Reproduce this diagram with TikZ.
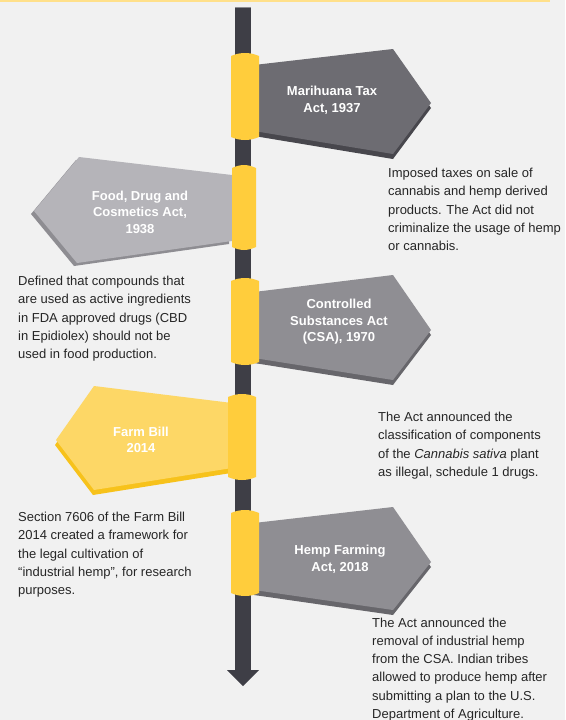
\documentclass[tikz,border=0pt]{standalone}
\usepackage{fontspec}
\setmainfont{Liberation Sans}
\definecolor{bg}{HTML}{F1F1F1}
\definecolor{topline}{HTML}{FFE08A}
\definecolor{polec}{HTML}{3E3E46}
\definecolor{polecap}{HTML}{8A8A90}
\definecolor{collarc}{HTML}{FFCD3C}
\definecolor{sa}{HTML}{6D6C72}
\definecolor{sad}{HTML}{48474D}
\definecolor{sb}{HTML}{B5B4B9}
\definecolor{sbd}{HTML}{8E8D92}
\definecolor{sc}{HTML}{8F8E93}
\definecolor{scd}{HTML}{67666B}
\definecolor{sd}{HTML}{FDD766}
\definecolor{sdd}{HTML}{F7C21B}
\definecolor{txt}{HTML}{262626}
\newcommand\drawcollar[4]{\fill[collarc] (#1,#3+3) .. controls (#1+9,#3-1) and (#2-9,#3-1) .. (#2,#3+3) -- (#2,#4-3) .. controls (#2-9,#4+1) and (#1+9,#4+1) .. (#1,#4-3) -- cycle;}
\begin{document}
\begin{tikzpicture}[x=1pt,y=-1pt,
  desc/.style={anchor=base west, align=left, inner sep=0pt, text=txt, font=\fontsize{13}{18.3}\selectfont},
  signtxt/.style={align=center, inner sep=0pt, text=white, font=\bfseries\fontsize{13}{16.6}\selectfont}]
\fill[bg] (0,0) rectangle (565,720);
\useasboundingbox (0,0) rectangle (565,720);
\fill[topline] (0,0) rectangle (550,1.6);

% pole
\coordinate (poletop) at (243,7);
\coordinate (polebot) at (243,670);
\coordinate (tip) at (243,686);
\draw[line width=16pt, polec] (poletop) -- (polebot);
\fill[polec] (polebot) ++(-16,0) -- ++(32,0) -- (tip) -- cycle;
\draw[polecap, line width=1pt] (235,7.5) -- (251,7.5);

% sign 1
\fill[sad, shift={(0,5)}] (254,65) -- (393,49) -- (431,103) -- (393,154) -- (254,131) -- cycle;
\fill[sa] (254,65) -- (393,49) -- (431,103) -- (393,154) -- (254,131) -- cycle;
\drawcollar{231}{259}{53}{140}
\node[signtxt] (t1) at (332,100) {Marihuana Tax\\Act, 1937};

% sign 2
\fill[sbd, shift={(-3,3)}] (232,175) -- (79,157) -- (34,211) -- (77,263) -- (232,241) -- cycle;
\fill[sb] (232,175) -- (79,157) -- (34,211) -- (77,263) -- (232,241) -- cycle;
\drawcollar{232}{256}{165}{250}
\node[signtxt] (t2) at (140,212) {Food, Drug and\\Cosmetics Act,\\1938};

% sign 3
\fill[scd, shift={(0,5)}] (254,292) -- (393,275) -- (431,330) -- (393,380) -- (254,358) -- cycle;
\fill[sc] (254,292) -- (393,275) -- (431,330) -- (393,380) -- (254,358) -- cycle;
\drawcollar{231}{259}{278}{365}
\node[signtxt] (t3) at (339,322) {Controlled\\Substances Act\\(CSA), 1970};

% sign 4
\fill[sdd, shift={(-1,5)}] (232,403) -- (94,386) -- (56,440) -- (94,490) -- (232,468) -- cycle;
\fill[sd] (232,403) -- (94,386) -- (56,440) -- (94,490) -- (232,468) -- cycle;
\drawcollar{228}{256}{394}{480}
\node[signtxt] (t4) at (141,440) {Farm Bill\\2014};

% sign 5
\fill[scd, shift={(0,5)}] (254,523) -- (393,507) -- (431,562) -- (393,610) -- (254,590) -- cycle;
\fill[sc] (254,523) -- (393,507) -- (431,562) -- (393,610) -- (254,590) -- cycle;
\drawcollar{231}{259}{510}{596}
\node[signtxt] (t5) at (340,559) {Hemp Farming\\Act, 2018};

% descriptions (anchored at baseline of last line)
\node[desc] (d1) at (388,250.7) {Imposed taxes on sale of\\cannabis and hemp derived\\products. The Act did not\\criminalize the usage of hemp\\or cannabis.};
\node[desc] (d2) at (18,358.7) {Defined that compounds that\\are used as active ingredients\\in FDA approved drugs (CBD\\in Epidiolex) should not be\\used in food production.};
\node[desc] (d3) at (378,476.4) {The Act announced the\\classification of components\\of the \textit{Cannabis sativa} plant\\as illegal, schedule 1 drugs.};
\node[desc] (d4) at (18,594.7) {Section 7606 of the Farm Bill\\2014 created a framework for\\the legal cultivation of\\“industrial hemp”, for research\\purposes.};
\node[desc] (d5) at (372,718.5) {The Act announced the\\removal of industrial hemp\\from the CSA. Indian tribes\\allowed to produce hemp after\\submitting a plan to the U.S.\\Department of Agriculture.};
\end{tikzpicture}
\end{document}
